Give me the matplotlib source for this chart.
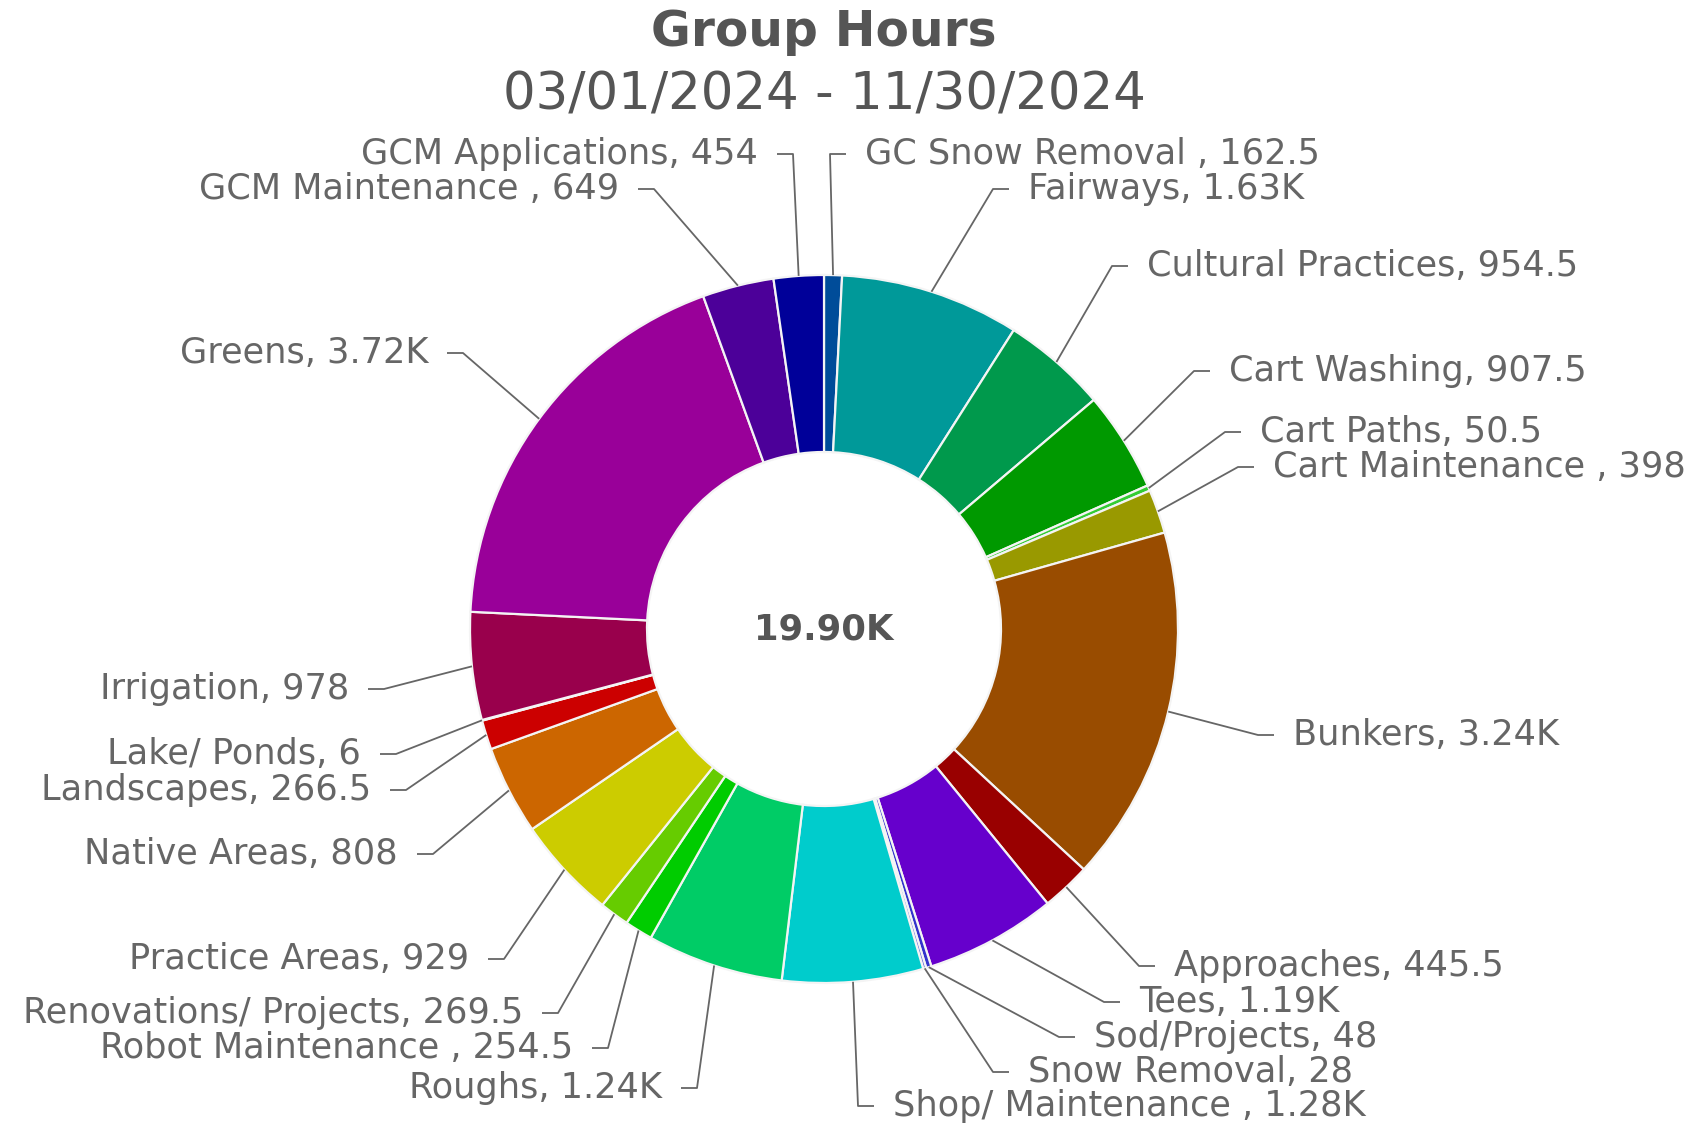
import matplotlib
matplotlib.use("Agg")
import matplotlib.pyplot as plt
import numpy as np

# ---------------- data (clockwise from 12 o'clock) ----------------
categories = ["GC Snow Removal ", "Fairways", "Cultural Practices", "Cart Washing",
              "Cart Paths", "Cart Maintenance ", "Bunkers", "Approaches", "Tees",
              "Sod/Projects", "Snow Removal", "Shop/ Maintenance ", "Roughs",
              "Robot Maintenance ", "Renovations/ Projects", "Practice Areas",
              "Native Areas", "Landscapes", "Lake/ Ponds", "Irrigation", "Greens",
              "GCM Maintenance ", "GCM Applications"]
hours = [162.5, 1630, 954.5, 907.5, 50.5, 398, 3240, 445.5, 1190, 48, 28, 1280,
         1240, 254.5, 269.5, 929, 808, 266.5, 6, 978, 3720, 649, 454]
value_labels = ["162.5", "1.63K", "954.5", "907.5", "50.5", "398", "3.24K", "445.5",
                "1.19K", "48", "28", "1.28K", "1.24K", "254.5", "269.5", "929", "808",
                "266.5", "6", "978", "3.72K", "649", "454"]
total_label = "19.90K"
title = "Group Hours"
subtitle = "03/01/2024 - 11/30/2024"

colors = ["#004C99", "#009999", "#00994C", "#009900", "#33CC33", "#999900",
          "#994C00", "#990000", "#6600CC", "#3333CC", "#6666DD", "#00CCCC",
          "#00CC66", "#00CC00", "#66CC00", "#CCCC00", "#CC6600", "#CC0000",
          "#CC0066", "#99004C", "#990099", "#4C0099", "#000099"]

# label elbow points (figure pixel coords, y downward)
elbows = [(830, 154), (993, 189), (1112, 266), (1194, 371), (1225, 432), (1238, 467),
          (1258, 735), (1139, 966), (1104, 1002), (1059, 1037), (993, 1072), (858, 1106),
          (697, 1088), (608, 1048), (558, 1013), (504, 959), (433, 854), (406, 790),
          (396, 754), (384, 689), (463, 353), (654, 189), (793, 154)]
label_right = [True, True, True, True, True, True, True, True, True, True, True, True,
               False, False, False, False, False, False, False, False, False, False, False]

W, H = 1696, 1126
DPI = 100
fig = plt.figure(figsize=(W / DPI, H / DPI), dpi=DPI)
ax = fig.add_axes([0, 0, 1, 1])

cx, cy = 824, H - 629
R = 354
hole = 0.5

wedges, _ = ax.pie(hours, colors=colors, startangle=90, counterclock=False,
                   center=(cx, cy), radius=R, frame=True,
                   wedgeprops=dict(width=R * (1 - hole), edgecolor="#F4F4F4", linewidth=1.6))
ax.set_xlim(0, W)
ax.set_ylim(0, H)
ax.set_aspect("equal")
ax.axis("off")

line_col = "#666666"
text_col = "#666666"
fs = 25.3
for w, cat, val, (ex, ey), right in zip(wedges, categories, value_labels, elbows, label_right):
    ang = np.deg2rad((w.theta1 + w.theta2) / 2)
    sx = cx + R * np.cos(ang)
    sy = cy + R * np.sin(ang)
    ey2 = H - ey
    d = 1 if right else -1
    ax.plot([sx, ex, ex + d * 16], [sy, ey2, ey2], color=line_col, lw=1.3,
            solid_capstyle="butt", zorder=1)
    ax.text(ex + d * 35, ey2, f"{cat}, {val}", ha="left" if right else "right",
            va="center", fontsize=fs, color=text_col, family="DejaVu Sans")

ax.text(cx, cy, total_label, ha="center", va="center", fontsize=25.5,
        fontweight="bold", color="#555555")
fig.text(824 / W, 1 - 32 / H, title, ha="center", va="center", fontsize=35,
         fontweight="bold", color="#555555")
fig.text(824 / W, 1 - 96 / H, subtitle, ha="center", va="center", fontsize=37,
         color="#555555")

fig.savefig("out.png", dpi=DPI, facecolor="white")
